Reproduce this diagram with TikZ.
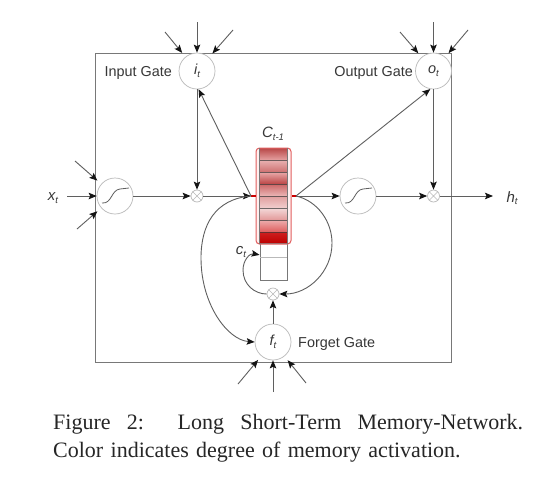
\documentclass[tikz,border=0pt]{standalone}
\usepackage{fontspec}
\setmainfont{Liberation Sans}
\newfontfamily\capfont{Liberation Serif}
\usetikzlibrary{arrows.meta}
\definecolor{boxgray}{RGB}{120,120,120}
\definecolor{ringgray}{RGB}{185,185,185}
\definecolor{wiregray}{RGB}{95,95,95}
\definecolor{tipdark}{RGB}{20,20,20}
\definecolor{memred}{RGB}{225,95,95}
\definecolor{inkgray}{RGB}{55,55,55}
\tikzset{
  x=1pt,y=-1pt,
  tipfill/.tip={Stealth[length=8pt,width=6.5pt,inset=1.5pt,color=tipdark,fill=tipdark]},
  wire/.style={draw=wiregray,line width=0.9pt,-tipfill},
  feed/.style={wire,shorten >=5pt},
  gate/.style={circle,draw=ringgray,line width=0.7pt,fill=white,minimum size=36pt,inner sep=0pt,font=\fontsize{14.5}{16}\selectfont\itshape,text=inkgray},
  mix/.style={circle,draw=ringgray,line width=0.7pt,fill=white,minimum size=12pt,inner sep=0pt},
  lab/.style={font=\fontsize{14.4}{16}\selectfont,text=inkgray,inner sep=0pt},
  vlab/.style={font=\fontsize{15}{16}\selectfont\itshape,text=inkgray,inner sep=0pt},
  cell/.style={draw=none,minimum width=27pt,minimum height=12pt,inner sep=0pt},
  sline/.style={draw=wiregray,line width=0.8pt},
}
\newcommand{\subt}[1]{\raisebox{-0.35ex}{\fontsize{9.5}{10}\selectfont #1}}
\newcommand{\gatetxt}[1]{\raisebox{-2pt}{#1\subt{t}}}
\begin{document}
\begin{tikzpicture}
\useasboundingbox (0,0) rectangle (534,477);
\fill[white] (0,0) rectangle (534,477);
\node[draw=boxgray,line width=1pt,minimum width=356pt,minimum height=309pt,inner sep=0pt] (frame) at (273,207.5) {};

% gates
\node[gate] (it) at (197,71) {\gatetxt{i}};
\node[gate] (ot) at (433.5,71) {\gatetxt{o}};
\node[gate] (ft) at (273,342) {\gatetxt{f}};
\node[gate] (s1) at (115,196) {};
\node[gate] (s2) at (358,196) {};
\node[mix] (m1) at (197,196) {};
\node[mix] (m2) at (433.5,196) {};
\node[mix] (m3) at (273,294) {};
\foreach \m in {m1,m2,m3}{
  \draw[ringgray,line width=0.6pt] (\m.45) -- (\m.225) (\m.135) -- (\m.315);
}
\draw[sline] (102,203) .. controls (112,204) and (111,190) .. (120,189) -- (129,188);
\draw[sline] (345,203) .. controls (355,204) and (354,190) .. (363,189) -- (372,188);

% memory column
\node[fill=red!6,minimum width=35pt,minimum height=96pt,inner sep=0pt,rounded corners=3pt] (memback) at (273.5,196) {};
\node[cell,shade,top color={rgb,255:red,185;green,75;blue,75},bottom color={rgb,255:red,232;green,165;blue,165}] (c1) at (273.5,154.5) {};
\node[cell,shade,top color={rgb,255:red,232;green,175;blue,175},bottom color={rgb,255:red,205;green,110;blue,110}] (c2) at (273.5,166.5) {};
\node[cell,shade,top color={rgb,255:red,232;green,165;blue,165},bottom color={rgb,255:red,185;green,65;blue,65}] (c3) at (273.5,178.5) {};
\node[cell,shade,top color={rgb,255:red,205;green,105;blue,105},bottom color={rgb,255:red,236;green,185;blue,185}] (c4) at (273.5,190.5) {};
\node[cell,shade,top color={rgb,255:red,225;green,160;blue,160},bottom color={rgb,255:red,242;green,208;blue,208}] (c5) at (273.5,202.5) {};
\node[cell,shade,top color={rgb,255:red,243;green,215;blue,215},bottom color={rgb,255:red,226;green,150;blue,150}] (c6) at (273.5,214.5) {};
\node[cell,shade,top color={rgb,255:red,236;green,170;blue,170},bottom color={rgb,255:red,222;green,90;blue,90}] (c7) at (273.5,226.5) {};
\node[cell,shade,top color={rgb,255:red,205;green,30;blue,30},bottom color={rgb,255:red,190;green,0;blue,0},minimum height=11pt] (c8) at (273.5,238) {};
\foreach \a/\b in {c1/c2,c2/c3,c3/c4,c4/c5,c5/c6,c6/c7,c7/c8}{
  \draw[inkgray,line width=0.8pt,opacity=0.7] (\a.south west) -- (\a.south east);
}
\node[draw=boxgray,line width=0.9pt,minimum width=27pt,minimum height=37pt,inner sep=0pt] (low) at (273.5,262) {};
\draw[ringgray,line width=0.9pt] (low.west |- 0,257) -- (low.east |- 0,257);
\node[draw=memred,line width=1pt,rounded corners=3.5pt,minimum width=35pt,minimum height=96pt,inner sep=0pt] (mem) at (273.5,196) {};
\draw[boxgray,line width=0.7pt] (c1.north west) -- (c8.south west) (c1.north east) -- (c8.south east);

% junctions
\coordinate (jl) at (251,196);
\coordinate (jr) at (296,196);
\draw[red!80!black,line width=1.2pt] (jl) -- (mem.west);
\draw[red!80!black,line width=1.2pt] (jr) -- (mem.east);

% connectors
\draw[wire] (s1) -- (m1);
\draw[wire] (m1) -- (jl);
\draw[wire] (jl) -- (it.-85);
\draw[wire] (it) -- (m1);
\draw[wire] (jr) -- (s2);
\draw[wire] (s2) -- (m2);
\draw[wire] (jr) -- (ot.-100);
\draw[wire] (ot) -- (m2);
\coordinate (ho) at (493,196);
\draw[wire] (m2) -- (ho);
\draw[wire] (ft) -- (m3);
\draw[wire] (jl) .. controls (215,199) and (201,225) .. (201,258) .. controls (201,305) and (228,340) .. (ft.west);
\draw[wire] (jr) .. controls (318,201) and (332,222) .. (332,243) .. controls (332,272) and (308,294) .. (m3.east);
\draw[wire] (m3.west) .. controls (255,294) and (243,285) .. (243,270) .. controls (243,260) and (250,253) .. (low.153);

% outside feeds
\coordinate (a1) at (165,32); \coordinate (a2) at (197,22); \coordinate (a3) at (233,30);
\coordinate (b1) at (400,32); \coordinate (b2) at (433.5,22); \coordinate (b3) at (468,30);
\coordinate (d1) at (75,161); \coordinate (d2) at (67,196); \coordinate (d3) at (77,229);
\coordinate (e1) at (238,384); \coordinate (e2) at (273,392); \coordinate (e3) at (306,383);
\draw[feed] (a1) -- (it);
\draw[wire] (a2) -- (it);
\draw[feed] (a3) -- (it);
\draw[feed] (b1) -- (ot);
\draw[wire] (b2) -- (ot);
\draw[feed] (b3) -- (ot);
\draw[feed] (d1) -- (s1);
\draw[wire] (d2) -- (s1);
\draw[feed] (d3) -- (s1);
\draw[feed] (e1) -- (ft);
\draw[wire] (e2) -- (ft);
\draw[feed] (e3) -- (ft);

% labels
\node[lab,anchor=east] (l1) at (172,73) {Input Gate};
\node[lab,anchor=east] (l2) at (413,73) {Output Gate};
\node[lab,anchor=west] (l3) at (298,344) {Forget Gate};
\node[vlab] (xt) at (53,198) {x\subt{t}};
\node[vlab] (ht) at (512,198) {h\subt{t}};
\node[vlab] (cs) at (241,252) {c\subt{t}};
\node[vlab] (cb) at (273,134) {C\subt{t-1}};

% caption
\node[anchor=north west,inner sep=0pt,text width=470pt,align=left,font=\capfont\fontsize{22}{28}\selectfont,text=black!85] (cap) at (53,414)
{\hbox to 470pt{Figure\hskip 0pt plus 1fil\relax\ 2:\hskip 0pt plus 3fil\relax\ Long\hskip 0pt plus 1fil\relax\ Short-Term\hskip 0pt plus 1fil\relax\ Memory-Network.}\\ Color indicates degree of memory activation.};
\end{tikzpicture}
\end{document}
